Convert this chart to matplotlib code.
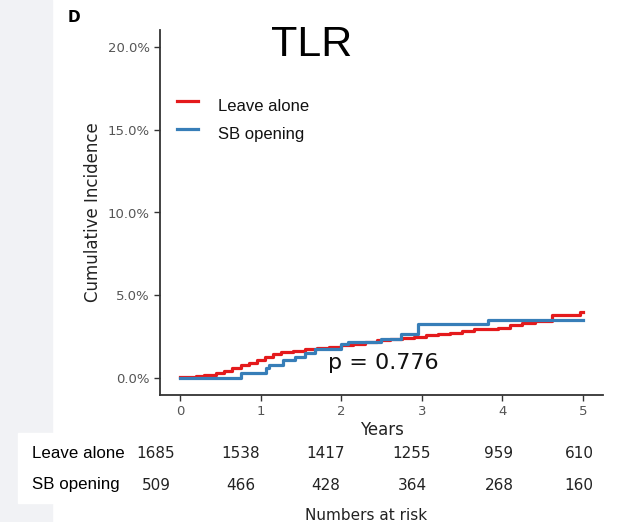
import matplotlib
matplotlib.use("Agg")
import matplotlib.pyplot as plt
from matplotlib.patches import Rectangle
from matplotlib.ticker import FuncFormatter

# cumulative incidence of TLR (percent) at each event time (years)
leave_t = [0, 0.2, 0.3, 0.45, 0.55, 0.65, 0.75, 0.85, 0.95, 1.05, 1.15, 1.25,
           1.4, 1.55, 1.7, 1.85, 2.0, 2.15, 2.3, 2.45, 2.6, 2.75, 2.9, 3.05,
           3.2, 3.35, 3.5, 3.65, 3.8, 3.95, 4.1, 4.25, 4.4, 4.62, 4.97, 5.0]
leave_ci = [0.08, 0.12, 0.2, 0.3, 0.45, 0.6, 0.8, 0.95, 1.1, 1.3, 1.5, 1.6,
            1.65, 1.75, 1.85, 1.9, 2.0, 2.1, 2.2, 2.3, 2.4, 2.45, 2.5, 2.6,
            2.7, 2.75, 2.85, 2.95, 3.0, 3.05, 3.2, 3.35, 3.45, 3.85, 4.0, 4.0]

sb_t = [0, 0.75, 1.06, 1.1, 1.28, 1.43, 1.55, 1.68, 2.0, 2.09, 2.49, 2.74,
        2.95, 3.82, 5.0]
sb_ci = [0.0, 0.3, 0.6, 0.8, 1.1, 1.3, 1.55, 1.75, 2.1, 2.2, 2.4, 2.7,
         3.25, 3.55, 3.55]

risk_years = [0, 1, 2, 3, 4, 5]
risk_leave = [1685, 1538, 1417, 1255, 959, 610]
risk_sb = [509, 466, 428, 364, 268, 160]

W, H = 628, 522
fig = plt.figure(figsize=(W / 100, H / 100), dpi=100)

# light backdrop on the left and the white box behind the row labels
fig.patches.append(Rectangle((0, 0), 52 / W, 1, transform=fig.transFigure,
                             color="#f1f2f5", zorder=0))
fig.patches.append(Rectangle((18 / W, 1 - 503 / H), 36 / W, 70 / H,
                             transform=fig.transFigure, color="white", zorder=1))

ax = fig.add_axes([160 / W, 1 - 395 / H, (603 - 160) / W, (395 - 30) / H])
ax.step(leave_t, leave_ci, where="post", color="#e41a1c", lw=2.3)
ax.step(sb_t, sb_ci, where="post", color="#377eb8", lw=2.3)

ax.set_xlim(-0.25, 5.25)
ax.set_ylim(-1.0, 21.0)
ax.set_xticks(risk_years)
ax.set_yticks([0, 5, 10, 15, 20])
ax.yaxis.set_major_formatter(FuncFormatter(lambda v, p: f"{v:.1f}%"))
ax.tick_params(labelsize=9.5, colors="#555555", length=4, width=1)
ax.tick_params(axis="both", color="#333333")
for s in ["top", "right"]:
    ax.spines[s].set_visible(False)
for s in ["left", "bottom"]:
    ax.spines[s].set_color("#333333")
    ax.spines[s].set_linewidth(1.3)

ax.set_ylabel("Cumulative Incidence", fontsize=12, color="#222222", labelpad=4)
ax.set_xlabel("Years", fontsize=12, color="#222222", labelpad=2)

ax.text(2.52, 0.9, "p = 0.776", fontsize=16, color="#111111", ha="center",
        va="center")

# legend drawn by hand
for y, c, lab in [(16.75, "#e41a1c", "Leave alone"), (15.05, "#377eb8", "SB opening")]:
    ax.plot([-0.04, 0.22], [y, y], color=c, lw=2.3, clip_on=False)
    ax.text(0.47, y - 0.35, lab, fontsize=12, family="Liberation Sans",
            va="center", ha="left", color="#111111")

fig.text(312 / W, 1 - 45 / H, "TLR", fontsize=31, family="Liberation Sans",
         ha="center", va="center")
fig.text(74 / W, 1 - 18 / H, "D", fontsize=11, fontweight="bold",
         ha="center", va="center")

# numbers at risk table
col_x = [156, 241, 326, 412, 499, 579]
for i in range(len(risk_years)):
    fig.text(col_x[i] / W, 1 - 454 / H, str(risk_leave[i]), fontsize=11,
             ha="center", va="center", color="#222222")
    fig.text(col_x[i] / W, 1 - 485 / H, str(risk_sb[i]), fontsize=11,
             ha="center", va="center", color="#222222")
fig.text(32 / W, 1 - 453 / H, "Leave alone", fontsize=12.2,
         family="Liberation Sans", ha="left", va="center", zorder=3)
fig.text(32 / W, 1 - 485 / H, "SB opening", fontsize=12.2,
         family="Liberation Sans", ha="left", va="center", zorder=3)
fig.text(366 / W, 1 - 516 / H, "Numbers at risk", fontsize=11,
         ha="center", va="center", color="#222222")

fig.savefig("out.png", dpi=100)
